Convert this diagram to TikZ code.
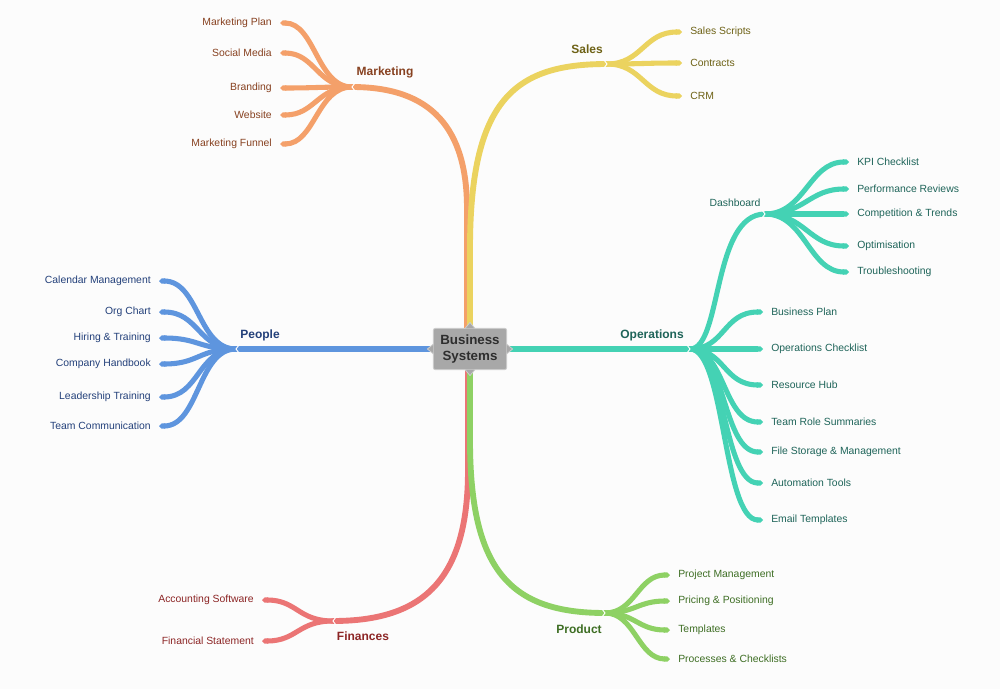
\documentclass[tikz,border=0pt]{standalone}
\usepackage{fontspec}
\setmainfont{Liberation Sans}
\usetikzlibrary{arrows.meta}
\definecolor{bgcol}{HTML}{FCFCFC}
\definecolor{rootfill}{HTML}{A8A8A8}
\definecolor{rootedge}{HTML}{CDCDCD}
\definecolor{roottext}{HTML}{2E2E2E}
\definecolor{mkline}{HTML}{F4A06A}
\definecolor{mktext}{HTML}{874120}
\definecolor{slline}{HTML}{EBD35F}
\definecolor{sltext}{HTML}{6E6216}
\definecolor{ppline}{HTML}{5E95DE}
\definecolor{pptext}{HTML}{23407A}
\definecolor{opline}{HTML}{44D2B4}
\definecolor{optext}{HTML}{1E6459}
\definecolor{filine}{HTML}{EB7575}
\definecolor{fitext}{HTML}{8C2525}
\definecolor{prline}{HTML}{8ED164}
\definecolor{prtext}{HTML}{3E6E24}
\tikzset{
  leaf/.style={font=\fontsize{7.8}{9}\selectfont, inner xsep=6pt, inner ysep=1pt},
  lleaf/.style={leaf, anchor=east},
  rleaf/.style={leaf, anchor=west},
  topic/.style={font=\bfseries\fontsize{9}{10}\selectfont, inner sep=1pt},
  branch/.style={line width=4.4pt},
  twig/.style={line width=3.8pt, -{Triangle Cap}},
  notch/.style={white, line width=0.7pt},
}

\begin{document}
\begin{tikzpicture}[x=0.75pt, y=-0.75pt]
  \fill[bgcol] (0,0) rectangle (1000,689);

  % centre
  \node[fill=rootfill, draw=rootedge, line width=0.6pt, rounded corners=1.5pt,
        minimum width=55pt, minimum height=31pt, inner sep=2pt, align=center,
        text=roottext, font=\bfseries\fontsize{10}{11.5}\selectfont]
        (root) at (470,349) {Business\\Systems};

  % hubs
  \coordinate (mkhub) at (352,87);
  \coordinate (slhub) at (607,64);
  \coordinate (pphub) at (236,349);
  \coordinate (ophub) at (690,349);
  \coordinate (dbhub) at (765,214);
  \coordinate (fihub) at (333,621);
  \coordinate (prhub) at (605,613);

  % topic labels
  \node[topic, text=mktext] (mk) at (385,72) {Marketing};
  \node[topic, text=sltext] (sl) at (587,49) {Sales};
  \node[topic, text=pptext] (pp) at (260,335) {People};
  \node[topic, text=optext] (op) at (652,335) {Operations};
  \node[topic, text=fitext] (fi) at (363,636) {Finances};
  \node[topic, text=prtext] (pr) at (579,629) {Product};
  \node[leaf, text=optext] (db) at (735,203) {Dashboard};

  % leaves
  \node[lleaf, text=mktext] (mk1) at (280,23) {Marketing Plan};
  \node[lleaf, text=mktext] (mk2) at (280,53) {Social Media};
  \node[lleaf, text=mktext] (mk3) at (280,88) {Branding};
  \node[lleaf, text=mktext] (mk4) at (280,115) {Website};
  \node[lleaf, text=mktext] (mk5) at (280,144) {Marketing Funnel};

  \node[rleaf, text=sltext] (sl1) at (682,32) {Sales Scripts};
  \node[rleaf, text=sltext] (sl2) at (682,63) {Contracts};
  \node[rleaf, text=sltext] (sl3) at (682,96) {CRM};

  \node[lleaf, text=pptext] (pp1) at (159,281) {Calendar Management};
  \node[lleaf, text=pptext] (pp2) at (159,312) {Org Chart};
  \node[lleaf, text=pptext] (pp3) at (159,338) {Hiring \& Training};
  \node[lleaf, text=pptext] (pp4) at (159,364) {Company Handbook};
  \node[lleaf, text=pptext] (pp5) at (159,397) {Leadership Training};
  \node[lleaf, text=pptext] (pp6) at (159,426) {Team Communication};

  \node[rleaf, text=optext] (db1) at (849,162) {KPI Checklist};
  \node[rleaf, text=optext] (db2) at (849,189) {Performance Reviews};
  \node[rleaf, text=optext] (db3) at (849,214) {Competition \& Trends};
  \node[rleaf, text=optext] (db4) at (849,246) {Optimisation};
  \node[rleaf, text=optext] (db5) at (849,272) {Troubleshooting};

  \node[rleaf, text=optext] (op1) at (763,312) {Business Plan};
  \node[rleaf, text=optext] (op2) at (763,349) {Operations Checklist};
  \node[rleaf, text=optext] (op3) at (763,385) {Resource Hub};
  \node[rleaf, text=optext] (op4) at (763,422) {Team Role Summaries};
  \node[rleaf, text=optext] (op5) at (763,452) {File Storage \& Management};
  \node[rleaf, text=optext] (op6) at (763,483) {Automation Tools};
  \node[rleaf, text=optext] (op7) at (763,520) {Email Templates};

  \node[lleaf, text=fitext] (fi1) at (262,600) {Accounting Software};
  \node[lleaf, text=fitext] (fi2) at (262,641) {Financial Statement};

  \node[rleaf, text=prtext] (pr1) at (670,575) {Project Management};
  \node[rleaf, text=prtext] (pr2) at (670,601) {Pricing \& Positioning};
  \node[rleaf, text=prtext] (pr3) at (670,630) {Templates};
  \node[rleaf, text=prtext] (pr4) at (670,659) {Processes \& Checklists};

  % main branches
  \draw[branch, mkline] (root.north) ++(-3,0) -- ++(0,-119)
    .. controls +(0,-80) and +(80,0) .. (mkhub);
  \draw[branch, slline] (root.north) -- ++(0,-79)
    .. controls +(0,-150) and +(-92,0) .. (slhub);
  \draw[branch, ppline] (root.west) -- (pphub);
  \draw[branch, opline] (root.east) -- (ophub);
  \draw[branch, filine] (root.south) ++(-2,0) -- ++(0,100)
    .. controls +(0,110) and +(90,0) .. (fihub);
  \draw[branch, prline] (root.south) -- ++(0,70)
    .. controls +(0,130) and +(-95,0) .. (prhub);
  \draw[twig, opline, -] (ophub) .. controls +(32,0) and +(-53,0) .. (dbhub);

  % twigs
  \draw[twig, mkline] (mkhub) .. controls +(-35,0) and +(35,0) .. (mk1.east);
  \draw[twig, mkline] (mkhub) .. controls +(-35,0) and +(35,0) .. (mk2.east);
  \draw[twig, mkline] (mkhub) .. controls +(-35,0) and +(35,0) .. (mk3.east);
  \draw[twig, mkline] (mkhub) .. controls +(-35,0) and +(35,0) .. (mk4.east);
  \draw[twig, mkline] (mkhub) .. controls +(-35,0) and +(35,0) .. (mk5.east);

  \draw[twig, slline] (slhub) .. controls +(35,0) and +(-38,0) .. (sl1.west);
  \draw[twig, slline] (slhub) .. controls +(35,0) and +(-38,0) .. (sl2.west);
  \draw[twig, slline] (slhub) .. controls +(35,0) and +(-38,0) .. (sl3.west);

  \draw[twig, ppline] (pphub) .. controls +(-38,0) and +(40,0) .. (pp1.east);
  \draw[twig, ppline] (pphub) .. controls +(-38,0) and +(40,0) .. (pp2.east);
  \draw[twig, ppline] (pphub) .. controls +(-38,0) and +(40,0) .. (pp3.east);
  \draw[twig, ppline] (pphub) .. controls +(-38,0) and +(40,0) .. (pp4.east);
  \draw[twig, ppline] (pphub) .. controls +(-38,0) and +(40,0) .. (pp5.east);
  \draw[twig, ppline] (pphub) .. controls +(-38,0) and +(40,0) .. (pp6.east);

  \draw[twig, opline] (dbhub) .. controls +(40,0) and +(-40,0) .. (db1.west);
  \draw[twig, opline] (dbhub) .. controls +(40,0) and +(-40,0) .. (db2.west);
  \draw[twig, opline] (dbhub) .. controls +(40,0) and +(-40,0) .. (db3.west);
  \draw[twig, opline] (dbhub) .. controls +(40,0) and +(-40,0) .. (db4.west);
  \draw[twig, opline] (dbhub) .. controls +(40,0) and +(-40,0) .. (db5.west);

  \draw[twig, opline] (ophub) .. controls +(35,0) and +(-40,0) .. (op1.west);
  \draw[twig, opline] (ophub) .. controls +(35,0) and +(-40,0) .. (op2.west);
  \draw[twig, opline] (ophub) .. controls +(35,0) and +(-40,0) .. (op3.west);
  \draw[twig, opline] (ophub) .. controls +(35,0) and +(-40,0) .. (op4.west);
  \draw[twig, opline] (ophub) .. controls +(35,0) and +(-40,0) .. (op5.west);
  \draw[twig, opline] (ophub) .. controls +(35,0) and +(-40,0) .. (op6.west);
  \draw[twig, opline] (ophub) .. controls +(35,0) and +(-40,0) .. (op7.west);

  \draw[twig, filine] (fihub) .. controls +(-35,0) and +(35,0) .. (fi1.east);
  \draw[twig, filine] (fihub) .. controls +(-35,0) and +(35,0) .. (fi2.east);

  \draw[twig, prline] (prhub) .. controls +(30,0) and +(-32,0) .. (pr1.west);
  \draw[twig, prline] (prhub) .. controls +(30,0) and +(-32,0) .. (pr2.west);
  \draw[twig, prline] (prhub) .. controls +(30,0) and +(-32,0) .. (pr3.west);
  \draw[twig, prline] (prhub) .. controls +(30,0) and +(-32,0) .. (pr4.west);

  % notches at the joints
  \draw[notch] (mkhub) ++(3,-4) -- ++(-3,4) -- ++(3,4);
  \draw[notch] (slhub) ++(-3,-4) -- ++(3,4) -- ++(-3,4);
  \draw[notch] (pphub) ++(3,-4) -- ++(-3,4) -- ++(3,4);
  \draw[notch] (ophub) ++(-3,-4) -- ++(3,4) -- ++(-3,4);
  \draw[notch] (dbhub) ++(-3,-4) -- ++(3,4) -- ++(-3,4);
  \draw[notch] (fihub) ++(3,-4) -- ++(-3,4) -- ++(3,4);
  \draw[notch] (prhub) ++(-3,-4) -- ++(3,4) -- ++(-3,4);

  % little points on the centre box
  \filldraw[fill=rootfill, draw=rootedge, line width=0.6pt]
    (root.north) ++(-5,0.5) -- ++(5,-6) -- ++(5,6);
  \filldraw[fill=rootfill, draw=rootedge, line width=0.6pt]
    (root.south) ++(-5,-0.5) -- ++(5,6) -- ++(5,-6);
  \filldraw[fill=rootfill, draw=rootedge, line width=0.6pt]
    (root.west) ++(0.5,-5) -- ++(-6,5) -- ++(6,5);
  \filldraw[fill=rootfill, draw=rootedge, line width=0.6pt]
    (root.east) ++(-0.5,-5) -- ++(6,5) -- ++(-6,5);
\end{tikzpicture}
\end{document}
